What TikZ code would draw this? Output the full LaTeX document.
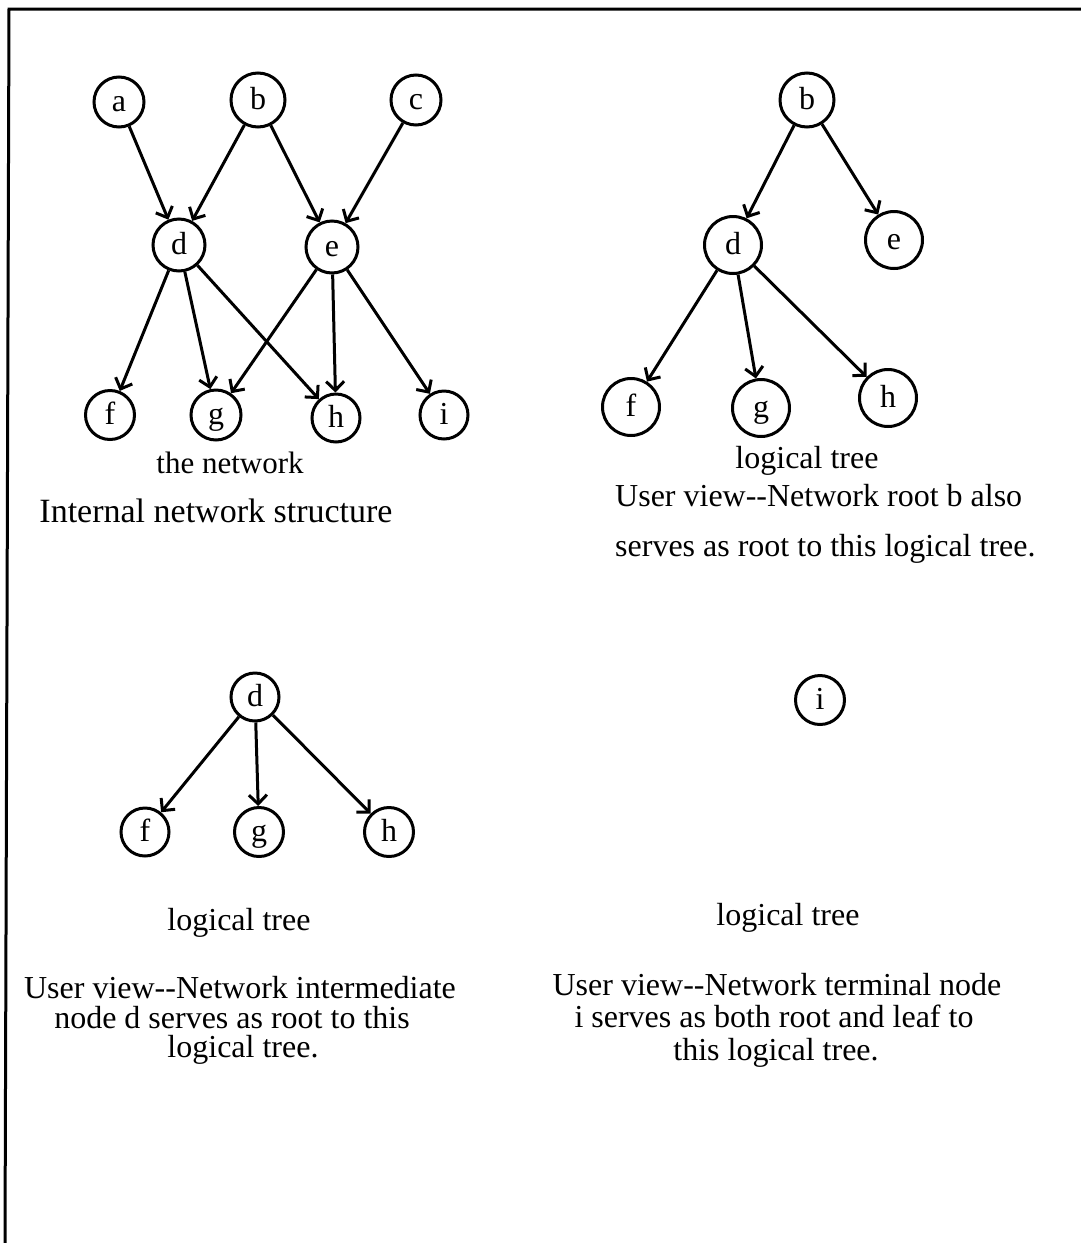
\documentclass[tikz,border=0pt]{standalone}
\usepackage{fontspec}
\setmainfont{Liberation Serif}
\usetikzlibrary{arrows.meta}
\begin{document}
\begin{tikzpicture}[x=1pt,y=-1pt,
  vert/.style={draw, circle, line width=3pt, inner sep=0pt, minimum size=#1,
               text height=22pt, text depth=3pt,
               font=\fontsize{32}{34}\selectfont},
  vert/.default=50pt,
  link/.style={line width=3pt, -{Straight Barb[length=9pt,width=18pt]}},
  caption/.style={font=\fontsize{32}{30}\selectfont, inner sep=0pt, anchor=base}
]
\useasboundingbox (0,0) rectangle (1081,1243);

% page frame (top and left rules only)
\draw[line width=3pt] (1081,9) -- (9,9) -- (5,1243);

% ---- the network ----
\node[vert]       (na) at (119,102) {a};
\node[vert=54pt]  (nb) at (258,100) {b};
\node[vert]       (nc) at (416,100) {c};
\node[vert=52pt]  (nd) at (179,245) {d};
\node[vert=52pt]  (ne) at (332,247) {e};
\node[vert=49pt]  (nf) at (110,415) {f};
\node[vert]       (ng) at (216,415) {g};
\node[vert=48pt]  (nh) at (336,418) {h};
\node[vert=48pt]  (ni) at (444,415) {i};

\draw[link] (na) -- (nd);
\draw[link] (nb) -- (nd);
\draw[link] (nb) -- (ne);
\draw[link] (nc) -- (ne);
\draw[link] (nd) -- (nf);
\draw[link] (nd) -- (ng);
\draw[link] (nd) -- (nh);
\draw[link] (ne) -- (ng);
\draw[link] (ne) -- (nh);
\draw[link] (ne) -- (ni);

\node[caption, font=\fontsize{31}{30}\selectfont] (netcap) at (230,473) {the network};
\node[caption, font=\fontsize{34}{30}\selectfont] (netsub) at (216,522) {Internal network structure};

% ---- logical tree rooted at b ----
\node[vert=54pt] (tb) at (807,100) {b};
\node[vert=57pt] (td) at (733,245) {d};
\node[vert=57pt] (te) at (894,240) {e};
\node[vert=57pt] (tf) at (631,407) {f};
\node[vert=57pt] (tg) at (761,408) {g};
\node[vert=57pt] (th) at (888,398) {h};

\draw[link] (tb) -- (td);
\draw[link] (tb) -- (te);
\draw[link] (td) -- (tf);
\draw[link] (td) -- (tg);
\draw[link] (td) -- (th);

\node[caption] (bcap) at (807,468) {logical tree};
\node[caption, anchor=base west] (bline1) at (615,506) {User view-{}-Network root b also};
\node[caption, anchor=base west] (bline2) at (615,556) {serves as root to this logical tree.};

% ---- logical tree rooted at d ----
\node[vert=48pt] (ud) at (255,697) {d};
\node[vert=48pt] (uf) at (145,832) {f};
\node[vert=49pt] (ug) at (259,832) {g};
\node[vert=49pt] (uh) at (389,832) {h};

\draw[link] (ud) -- (uf);
\draw[link] (ud) -- (ug);
\draw[link] (ud) -- (uh);

\node[caption] (dcap) at (239,930) {logical tree};
\node[caption] (dline1) at (240,998) {User view-{}-Network intermediate};
\node[caption] (dline2) at (232,1028) {node d serves as root to this};
\node[caption] (dline3) at (243,1057) {logical tree.};

% ---- logical tree consisting of i alone ----
\node[vert=49pt] (vi) at (820,700) {i};

\node[caption] (icap) at (788,925) {logical tree};
\node[caption] (iline1) at (777,995) {User view-{}-Network terminal node};
\node[caption] (iline2) at (774,1027) {i serves as both root and leaf to};
\node[caption] (iline3) at (776,1060) {this logical tree.};
\end{tikzpicture}
\end{document}
